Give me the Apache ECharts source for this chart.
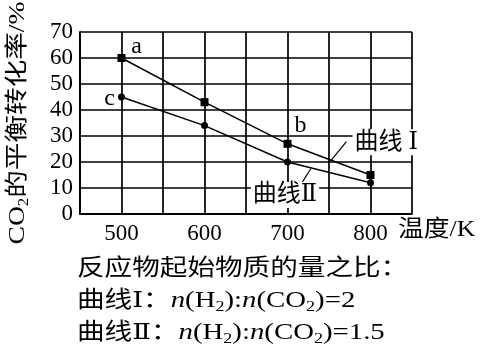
<!DOCTYPE html>
<html>
<head>
<meta charset="utf-8">
<script src="https://cdn.jsdelivr.net/npm/echarts@6/dist/echarts.min.js"></script>
<style>html,body{margin:0;padding:0;background:#fff;}#c{width:481px;height:356px;}</style>
</head>
<body>
<div id="c"></div>
<script>
// ---- data ----
var temperatures = [500, 600, 700, 800];
var curveI = [60, 43, 27, 15];
var curveII = [45, 34, 20, 12];
var curveILabels = ['a', '', 'b', ''];
var curveIILabels = ['c', '', '', ''];
var xTickLabels = [500, 600, 700, 800];
var yTickLabels = [0, 10, 20, 30, 40, 50, 60, 70];
var curveINameText = '曲线 Ⅰ';
var curveIINameText = '曲线Ⅱ';
// leader lines (data units) and name anchors (data units)
var leaderI = [[752, 20.4], [771, 27.8]];
var leaderII = [[728, 17.4], [718, 12.3]];
var nameAnchorI = [819, 27.6];
var nameAnchorII = [697, 7.3];

var serif = "'Liberation Serif','DejaVu Serif','Noto Sans CJK SC',serif";
var cjk = "'Liberation Serif','DejaVu Serif','Noto Sans CJK SC',sans-serif";

var labelOffsets = { a: [15, -11], b: [13, -18], c: [-12, 2] };

function buildData(vals, labels) {
  return vals.map(function (v, i) {
    var item = { value: [temperatures[i], v] };
    if (labels[i]) {
      item.label = {
        show: true, formatter: labels[i], position: 'inside',
        offset: labelOffsets[labels[i]],
        fontFamily: serif, fontSize: 24, color: '#000'
      };
    }
    return item;
  });
}

var chart = echarts.init(document.getElementById('c'), null, { renderer: 'canvas' });
var option = {
  animation: false,
  backgroundColor: '#fff',
  grid: { left: 80, right: 69, top: 32, bottom: 142, containLabel: false },
  xAxis: {
    type: 'value', min: 450, max: 850, interval: 50,
    axisLine: { show: true, onZero: false, lineStyle: { color: '#000', width: 1.8 } },
    axisTick: { show: false },
    splitLine: { show: true, lineStyle: { color: '#000', width: 1.7 } },
    axisLabel: {
      margin: 8, fontFamily: serif, fontSize: 23, color: '#000',
      formatter: function (v) { return xTickLabels.indexOf(v) >= 0 ? String(v) : ''; }
    }
  },
  yAxis: {
    type: 'value', min: 0, max: 70, interval: 10,
    axisLine: { show: true, lineStyle: { color: '#000', width: 1.8 } },
    axisTick: { show: false },
    splitLine: { show: true, lineStyle: { color: '#000', width: 1.7 } },
    axisLabel: {
      margin: 7, fontFamily: serif, fontSize: 23, color: '#000',
      formatter: function (v) { return yTickLabels.indexOf(v) >= 0 ? String(v) : ''; }
    }
  },
  series: [
    {
      type: 'line', name: curveINameText,
      data: buildData(curveI, curveILabels),
      symbol: 'rect', symbolSize: 8,
      lineStyle: { color: '#000', width: 1.5 },
      itemStyle: { color: '#000' },
      markLine: {
        silent: true, symbol: 'none', animation: false,
        lineStyle: { color: '#000', width: 1.2, type: 'solid' },
        label: { show: false },
        data: [[{ coord: leaderI[0] }, { coord: leaderI[1] }]]
      },
      markPoint: {
        symbol: 'rect', symbolSize: 1, itemStyle: { color: 'rgba(0,0,0,0)' },
        label: {
          show: true, position: 'inside', formatter: curveINameText,
          fontFamily: cjk, fontSize: 24, color: '#000',
          backgroundColor: '#fff', padding: [1, 2]
        },
        data: [{ coord: nameAnchorI }]
      }
    },
    {
      type: 'line', name: curveIINameText,
      data: buildData(curveII, curveIILabels),
      symbol: 'circle', symbolSize: 7,
      lineStyle: { color: '#000', width: 1.5 },
      itemStyle: { color: '#000' },
      markLine: {
        silent: true, symbol: 'none', animation: false,
        lineStyle: { color: '#000', width: 1.2, type: 'solid' },
        label: { show: false },
        data: [[{ coord: leaderII[0] }, { coord: leaderII[1] }]]
      },
      markPoint: {
        symbol: 'rect', symbolSize: 1, itemStyle: { color: 'rgba(0,0,0,0)' },
        label: {
          show: true, position: 'inside', formatter: curveIINameText,
          fontFamily: cjk, fontSize: 24, color: '#000',
          backgroundColor: '#fff', padding: [1, 2]
        },
        data: [{ coord: nameAnchorII }]
      }
    }
  ],
  graphic: [
    {
      type: 'text', x: 18, y: 123, rotation: Math.PI / 2, scaleX: 1.2,
      style: {
        text: '{a|CO}{s|2}{c|的平衡转化率/%}',
        align: 'center', verticalAlign: 'middle',
        rich: {
          a: { fontFamily: serif, fontSize: 23, lineHeight: 26, fill: '#000' },
          s: { fontFamily: serif, fontSize: 14, lineHeight: 14, verticalAlign: 'bottom', fill: '#000' },
          c: { fontFamily: cjk, fontSize: 23, lineHeight: 26, fill: '#000' }
        }
      }
    },
    {
      type: 'text', x: 398, y: 230, scaleX: 1.12,
      style: { text: '温度/K', font: "23px " + cjk, fill: '#000', align: 'left', verticalAlign: 'middle' }
    },
    {
      type: 'text', x: 77, y: 269, scaleX: 1.2,
      style: { text: '反应物起始物质的量之比：', font: "23px " + cjk, fill: '#000', align: 'left', verticalAlign: 'middle' }
    },
    {
      type: 'text', x: 77, y: 301, scaleX: 1.2,
      style: {
        text: '{c|曲线Ⅰ：}{i|n}{r|(H}{s|2}{r|):}{i|n}{r|(CO}{s|2}{r|)=2}',
        align: 'left', verticalAlign: 'middle',
        rich: {
          c: { fontFamily: cjk, fontSize: 23, lineHeight: 27, fill: '#000' },
          i: { fontFamily: serif, fontStyle: 'italic', fontSize: 24, lineHeight: 27, fill: '#000' },
          r: { fontFamily: serif, fontSize: 24, lineHeight: 27, fill: '#000' },
          s: { fontFamily: serif, fontSize: 15, lineHeight: 15, verticalAlign: 'bottom', fill: '#000' }
        }
      }
    },
    {
      type: 'text', x: 77, y: 333, scaleX: 1.2,
      style: {
        text: '{c|曲线Ⅱ：}{i|n}{r|(H}{s|2}{r|):}{i|n}{r|(CO}{s|2}{r|)=1.5}',
        align: 'left', verticalAlign: 'middle',
        rich: {
          c: { fontFamily: cjk, fontSize: 23, lineHeight: 27, fill: '#000' },
          i: { fontFamily: serif, fontStyle: 'italic', fontSize: 24, lineHeight: 27, fill: '#000' },
          r: { fontFamily: serif, fontSize: 24, lineHeight: 27, fill: '#000' },
          s: { fontFamily: serif, fontSize: 15, lineHeight: 15, verticalAlign: 'bottom', fill: '#000' }
        }
      }
    }
  ]
};
chart.setOption(option);
</script>
</body>
</html>
